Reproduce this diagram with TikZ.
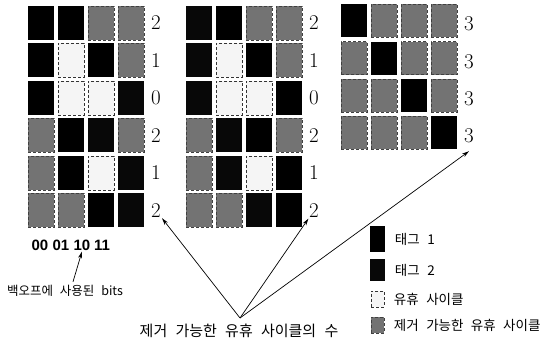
\documentclass[tikz,border=0pt]{standalone}
\usepackage{fontspec}
\setsansfont{Liberation Sans}
\newfontfamily\kr{Noto Sans CJK KR}
\usetikzlibrary{positioning,arrows.meta}

\tikzset{
  cell/.style={minimum width=26pt, minimum height=34pt, inner sep=0pt, line width=0.9pt},
  tagone/.style={fill=black},
  tagtwo/.style={fill=black!97},
  idle/.style={fill=black!4, draw=black!80, densely dashed},
  remov/.style={fill=black!55, draw=black!75, densely dashed},
  count/.style={font=\fontsize{21}{21}\selectfont, inner sep=1pt},
  krtext/.style={font={\kr\fontsize{#1}{#1}\selectfont\spaceskip=0.55em\relax}},
  arr/.style={-{Stealth[length=7pt,width=4pt]}, line width=0.7pt},
}

\begin{document}
\begin{tikzpicture}[x=1pt, y=-1pt]
  \useasboundingbox (0,0) rectangle (549,347);

  % First grid (six rows)
  \foreach \row/\ca/\cb/\cc/\cd/\n in {0/tagone/tagone/remov/remov/2, 1/tagone/idle/tagone/remov/1,
      2/tagone/idle/idle/tagtwo/0, 3/remov/tagone/tagtwo/remov/2,
      4/remov/tagone/idle/tagtwo/1, 5/remov/remov/tagone/tagtwo/2} {
    \foreach \col/\s in {0/\ca, 1/\cb, 2/\cc, 3/\cd} {
      \node[cell, \s] (ga\row\col) at (41+\col*30, 23+\row*37.5) {};
    }
    \node[count] (na\row) at (156, 23+\row*37.5) {\n};
  }

  % Second grid (six rows)
  \foreach \row/\ca/\cb/\cc/\cd/\n in {0/tagtwo/tagone/remov/remov/2, 1/tagtwo/idle/tagone/remov/1,
      2/tagtwo/idle/idle/tagone/0, 3/remov/tagtwo/tagone/remov/2,
      4/remov/tagtwo/idle/tagone/1, 5/remov/remov/tagtwo/tagone/2} {
    \foreach \col/\s in {0/\ca, 1/\cb, 2/\cc, 3/\cd} {
      \node[cell, \s] (gb\row\col) at (199+\col*30, 23+\row*37.5) {};
    }
    \node[count] (nb\row) at (314, 23+\row*37.5) {\n};
  }

  % Third grid (four rows)
  \foreach \row/\ca/\cb/\cc/\cd/\n in {0/tagone/remov/remov/remov/3, 1/remov/tagone/remov/remov/3,
      2/remov/remov/tagone/remov/3, 3/remov/remov/remov/tagone/3} {
    \foreach \col/\s in {0/\ca, 1/\cb, 2/\cc, 3/\cd} {
      \node[cell, \s, minimum height=33pt] (gc\row\col) at (354+\col*30, 21+\row*37.3) {};
    }
    \node[count] (nc\row) at (469, 24+\row*37.3) {\n};
  }

  % Backoff bits
  \foreach \bits/\x in {00/40, 01/61, 10/82, 11/102} {
    \node[font=\sffamily\bfseries\fontsize{15}{15}\selectfont, inner sep=1pt] (b\bits) at (\x, 245) {\bits};
  }
  \node[krtext=12.5] (bits) at (65, 291) {백오프에 사용된 bits};
  \draw[arr] ([xshift=8pt]bits.north) -- (b10.south);

  % Removable idle cycles count
  \coordinate (conv) at (240, 318);
  \node[krtext=15, anchor=north] (total) at (239, 320) {제거 가능한 유휴 사이클의 수};
  \draw[arr] (conv) -- (na5);
  \draw[arr] (conv) -- (nb5);
  \draw[arr] (conv) -- ([yshift=-7pt]nc3.south);

  % Legend
  \node[cell, tagone, minimum width=15pt, minimum height=26pt] (lg1) at (377.5, 239) {};
  \node[cell, tagtwo, minimum width=15pt, minimum height=22pt] (lg2) at (377.5, 270) {};
  \node[cell, idle, minimum width=13pt, minimum height=16pt] (lg3) at (377.5, 299) {};
  \node[cell, remov, minimum width=13pt, minimum height=16pt] (lg4) at (377.5, 325) {};
  \foreach \i/\t in {1/태그 1, 2/태그 2, 3/유휴 사이클, 4/제거 가능한 유휴 사이클} {
    \node[krtext=13.5, right=6pt of lg\i] (lt\i) {\t};
  }
\end{tikzpicture}
\end{document}
